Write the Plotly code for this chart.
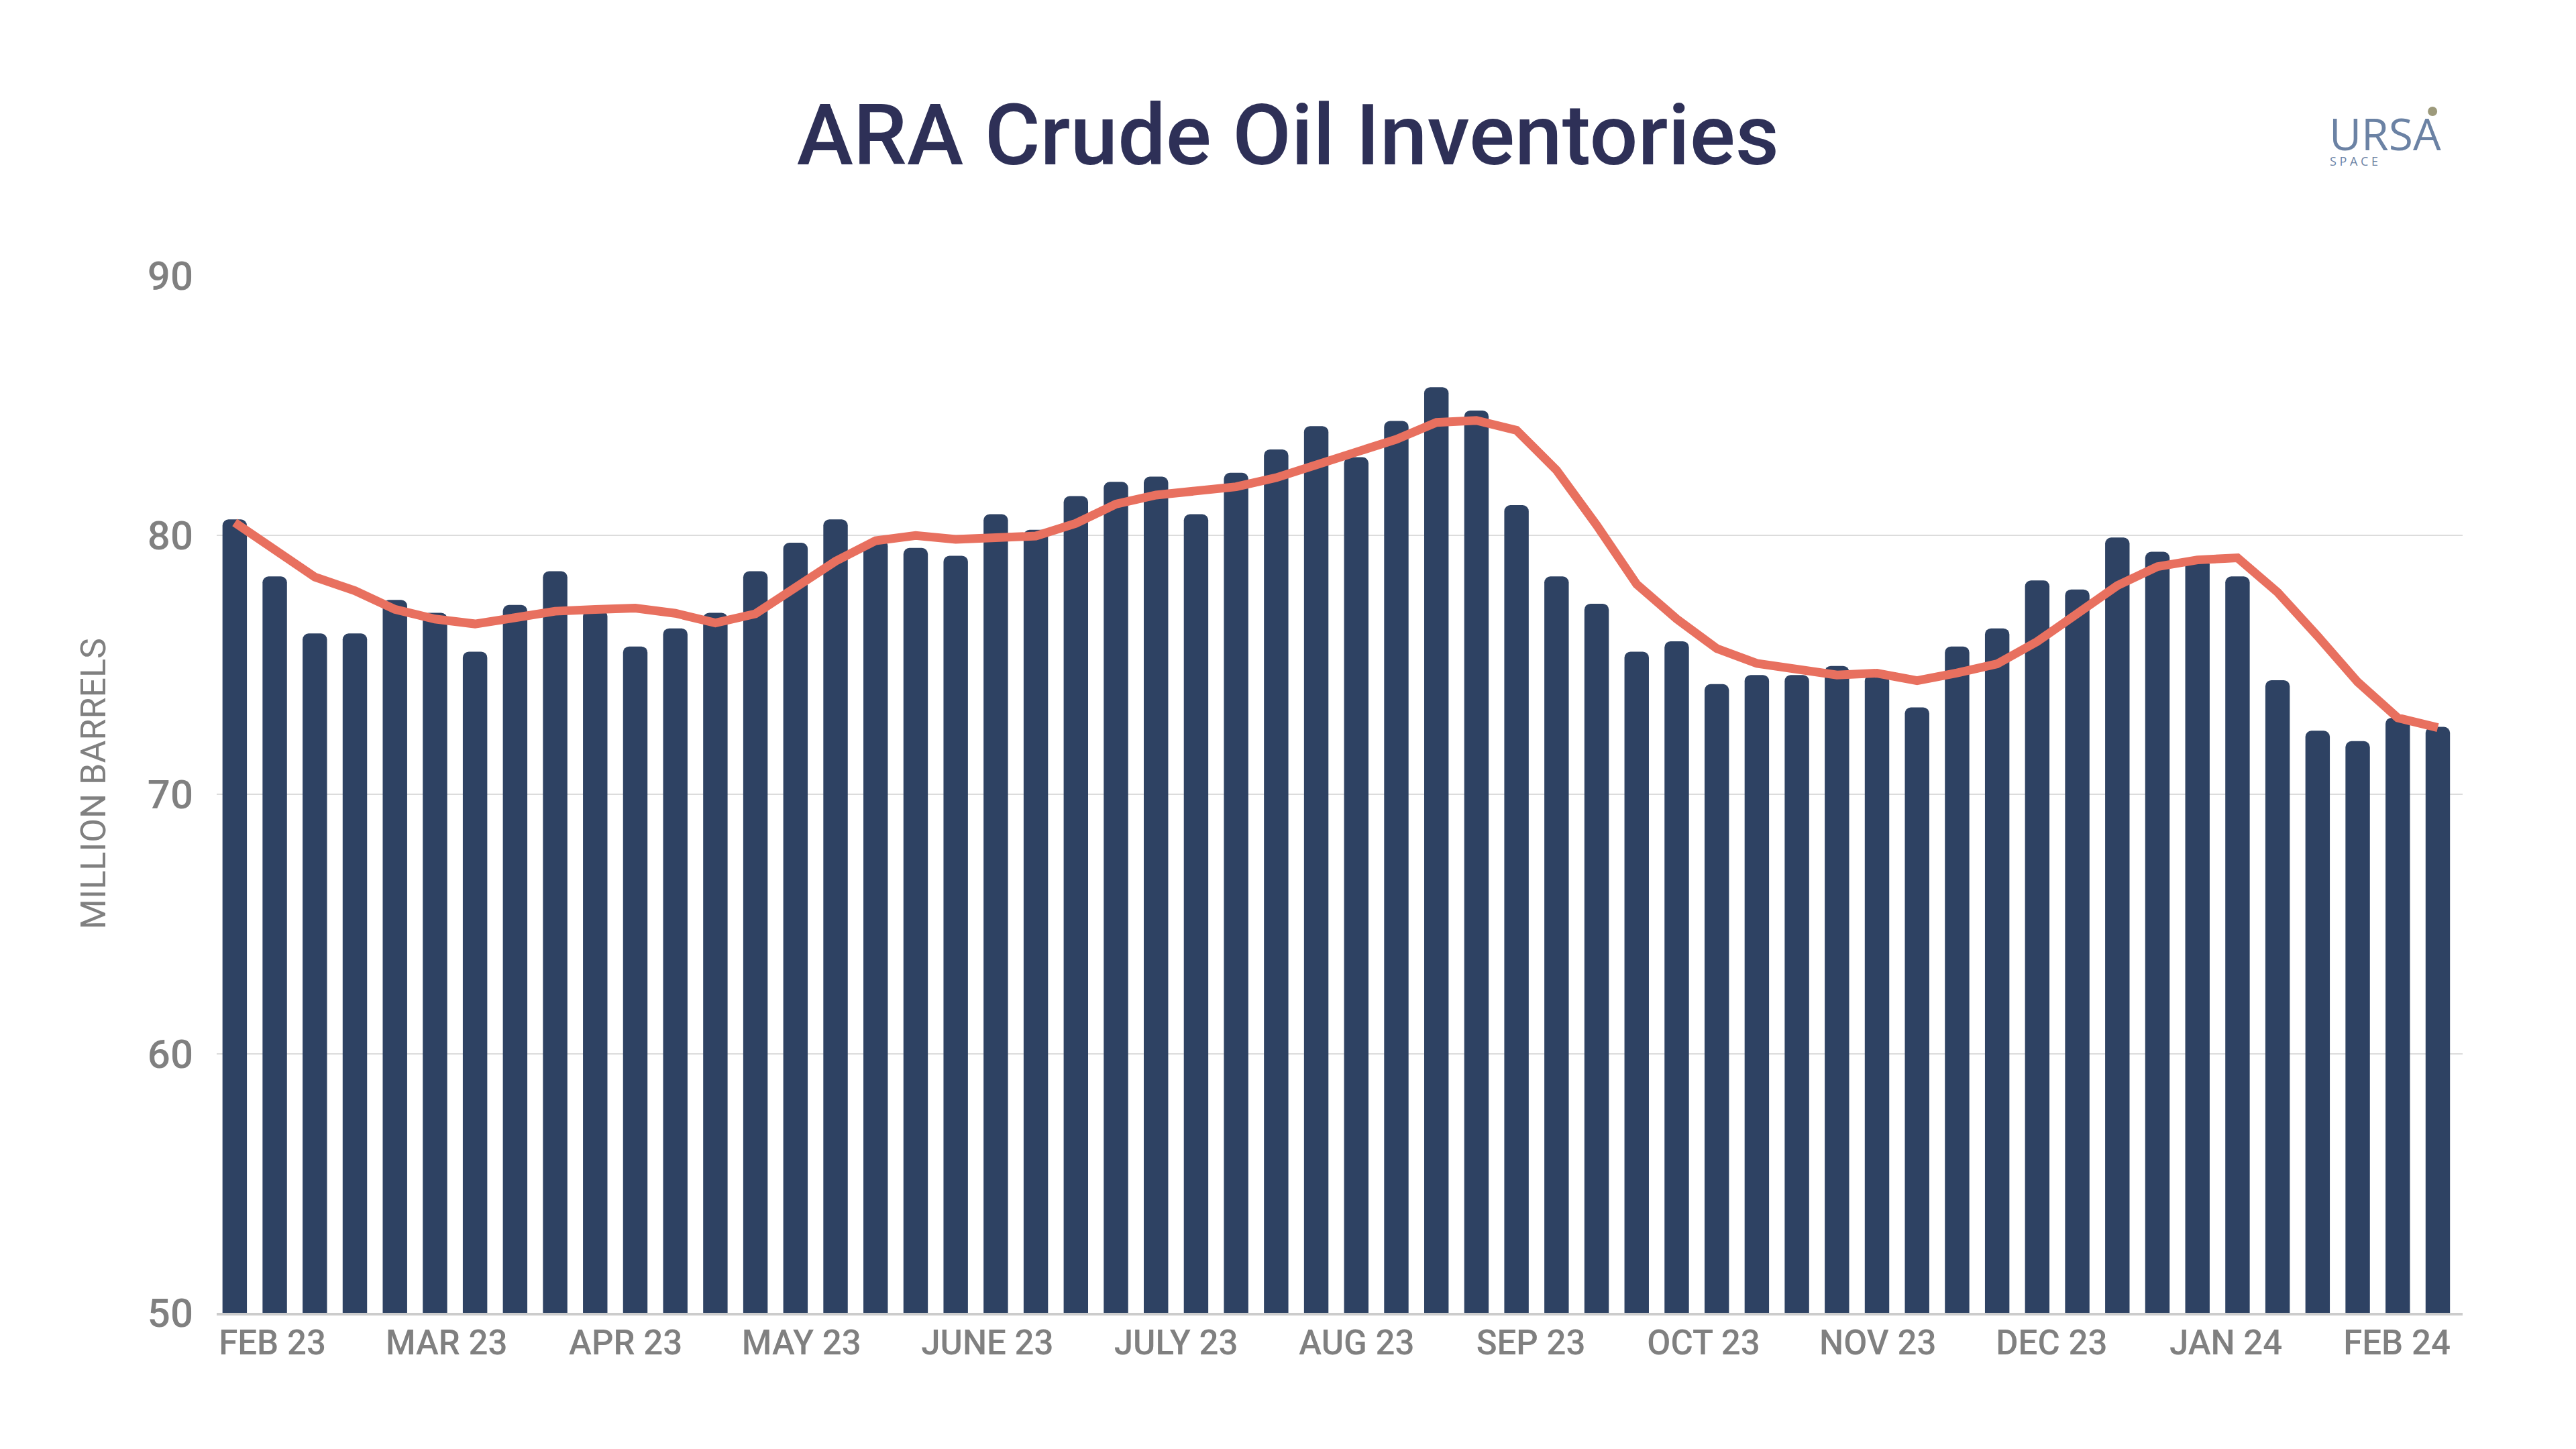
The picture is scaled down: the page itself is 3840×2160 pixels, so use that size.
import plotly.graph_objects as go

# ---- data ----
inventory = [80.6, 78.4, 76.2, 76.2, 77.5, 77.0, 75.5, 77.3, 78.6, 77.1,
             75.7, 76.4, 77.0, 78.6, 79.7, 80.6, 79.8, 79.5, 79.2, 80.8,
             80.2, 81.5, 82.05, 82.25, 80.8, 82.4, 83.3, 84.2, 83.0, 84.4,
             85.7, 84.8, 81.15, 78.4, 77.35, 75.5, 75.9, 74.25, 74.6, 74.6,
             74.95, 74.6, 73.35, 75.7, 76.4, 78.25, 77.9, 79.9, 79.35, 79.1,
             78.4, 74.4, 72.45, 72.05, 72.95, 72.6]
moving_avg = [80.48, 79.48, 78.38, 77.85, 77.13, 76.76, 76.57, 76.81, 77.06, 77.13,
              77.18, 76.98, 76.61, 76.96, 77.95, 78.99, 79.78, 79.98, 79.83, 79.88,
              79.96, 80.45, 81.19, 81.54, 81.67, 81.86, 82.21, 82.7, 83.2, 83.69,
              84.34, 84.42, 84.04, 82.5, 80.38, 78.1, 76.76, 75.62, 75.05, 74.8,
              74.6, 74.67, 74.38, 74.68, 75.03, 75.89, 76.93, 78.05, 78.78, 79.04,
              79.12, 77.79, 76.1, 74.33, 72.95, 72.57]
week_index = list(range(len(inventory)))
month_labels = ["FEB 23", "MAR 23", "APR 23", "MAY 23", "JUNE 23", "JULY 23", "AUG 23",
                "SEP 23", "OCT 23", "NOV 23", "DEC 23", "JAN 24", "FEB 24"]
month_tick_pos = [0.94, 5.29, 9.76, 14.15, 18.79, 23.5, 28.01, 32.36, 36.67, 41.02,
                  45.36, 49.71, 53.98]
y_ticks = [50, 60, 70, 80, 90]

BAR = "#2e4263"
LINE = "#e8705f"
GREY = "#808080"

fig = go.Figure()
fig.add_trace(go.Bar(x=week_index, y=inventory, marker=dict(color=BAR, cornerradius=9,
                     line=dict(width=0)), width=0.61, showlegend=False))
fig.add_trace(go.Scatter(x=week_index, y=moving_avg, mode="lines",
                         line=dict(color=LINE, width=13), showlegend=False))

fig.update_layout(
    width=3840, height=2160,
    paper_bgcolor="white", plot_bgcolor="white",
    margin=dict(l=323, r=169, t=411, b=203),
    font=dict(family="Roboto", color=GREY),
    title=dict(text="ARA Crude Oil Inventories", x=0.5, xanchor="center",
               y=1 - 201 / 2160, yanchor="middle",
               font=dict(family="Roboto", size=127, color="#2e3057", weight=500)),
    xaxis=dict(range=[-0.45, 55.62], tickmode="array", tickvals=month_tick_pos,
               ticktext=month_labels, showgrid=False, zeroline=False,
               showline=True, linecolor="#cccccc", linewidth=4,
               ticks="", ticklabelstandoff=-3,
               tickfont=dict(family="Roboto", size=51, color=GREY, weight=500)),
    yaxis=dict(range=[50, 90], tickmode="array", tickvals=y_ticks,
               showgrid=True, gridcolor="#dcdcdc", gridwidth=2, zeroline=False,
               showline=False, ticks="", ticklabelstandoff=34,
               tickfont=dict(family="Roboto", size=60, color=GREY, weight=500)),
    bargap=0.39,
)

fig.add_annotation(text="MILLION BARRELS", textangle=-90, xref="paper", yref="paper",
                   x=-0.0547, y=0.51, xanchor="center", yanchor="middle", showarrow=False,
                   font=dict(family="Roboto", size=52, color=GREY))

# logo
fig.add_annotation(text="URSA", xref="paper", yref="paper", x=0.9403, y=1.1375,
                   xanchor="left", yanchor="middle", showarrow=False, borderpad=0,
                   font=dict(family="Open Sans", size=66, color="#6b82a4", weight=500))
fig.add_annotation(text="S P A C E", xref="paper", yref="paper", x=0.9406, y=1.1105,
                   xanchor="left", yanchor="middle", showarrow=False, borderpad=0,
                   font=dict(family="Open Sans", size=18, color="#6b82a4"))
fig.add_shape(type="circle", xref="paper", yref="paper", xsizemode="pixel", ysizemode="pixel",
              xanchor=0.9866, yanchor=1.1585, x0=-7, x1=7, y0=-7, y1=7,
              fillcolor="#9d9a7b", line=dict(width=0))

fig.write_html("out.html")
